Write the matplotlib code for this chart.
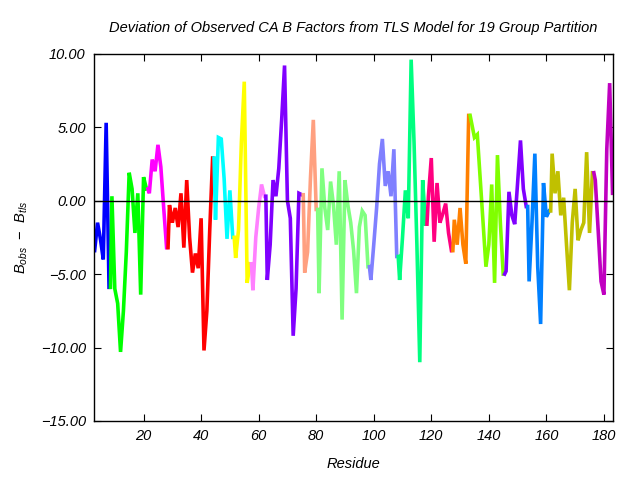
import numpy as np
import matplotlib
matplotlib.use('Agg')
import matplotlib.pyplot as plt

plt.rcParams['font.family'] = ['Liberation Sans', 'DejaVu Sans']
plt.rcParams['mathtext.fontset'] = 'custom'
plt.rcParams['mathtext.it'] = 'Liberation Sans:italic'
plt.rcParams['mathtext.rm'] = 'Liberation Sans'

# 每个分组：起始残基号 + 偏差值
group_starts = [3, 9, 22, 29, 45, 52, 58, 63, 76, 81, 99, 109, 119, 128, 134, 146, 154, 162, 177]
group_values = [
    [-3.4, -1.5, -2.6, -4.0, 5.3, -5.9],
    [0.3, -6.0, -7.0, -10.3, -7.5, -3.5, 1.9, 0.8, -2.2, 0.5, -6.4, 1.6, 0.8],
    [0.5, 2.8, 2.0, 3.8, 2.3, -0.5, -3.2],
    [-0.3, -1.5, -0.5, -1.8, 0.5, -3.2, 1.4, -2.5, -4.9, -3.6, -4.6, -1.2, -10.2, -7.5, -2.0, 2.9],
    [-1.3, 4.3, 4.2, 1.5, -2.6, 0.7, -2.5],
    [-3.9, -2.0, 4.0, 8.1, -5.6, -4.3],
    [-6.1, -2.5, -0.5, 1.1, 0.3],
    [-5.4, -3.0, 1.4, 0.3, 2.2, 5.5, 9.2, 0.0, -1.2, -9.2, -6.0, 0.5, 0.4],
    [-4.9, -3.5, 1.5, 5.5, -0.6],
    [-6.3, 2.2, -0.5, -2.0, 1.3, -0.3, -3.0, 2.0, -8.1, 1.4, -0.3, -1.5, -3.4, -6.3, -1.8, -0.7, -1.0, -4.5],
    [-5.4, -3.0, -0.5, 2.5, 4.2, 1.0, 2.0, 0.3, 3.5, -3.8],
    [-5.4, -2.5, 0.7, -1.2, 9.6, 4.0, -3.0, -11.0, 1.4, -1.6],
    [0.3, 2.9, -2.8, 1.2, -1.5, -0.9, -0.2, -2.2, -3.4],
    [-1.3, -3.0, -0.5, -3.0, -4.3, 5.8],
    [5.3, 4.3, 4.5, 1.5, -1.5, -4.5, -3.0, 1.1, -5.6, 3.1, -1.5, -5.0],
    [-4.8, 0.6, -1.0, -1.6, 1.2, 4.1, 0.8, -0.4],
    [-5.5, -1.5, 3.2, -4.5, -8.4, 1.2, -1.1, -0.7],
    [3.2, 0.5, 2.0, -1.0, 0.2, -3.0, -6.1, -1.5, 0.8, -2.7, -2.0, -1.5, 3.3, -2.2, 1.9],
    [1.4, -2.0, -5.5, -6.4, 3.5, 8.0, 0.5],
]
group_colors = ['#0000ff', '#00ff00', '#ff00ff', '#ff0000', '#00ffff', '#ffff00', '#ff80ff',
                '#8000ff', '#ffa080', '#80ff80', '#8080ff', '#00ff80', '#ff0080', '#ff8000',
                '#80ff00', '#8000ff', '#0080ff', '#c0c000', '#c000c0']

xticks = [20, 40, 60, 80, 100, 120, 140, 160, 180]
yticks = [-15, -10, -5, 0, 5, 10]

fig = plt.figure(figsize=(6.4, 4.8), dpi=100)
ax = fig.add_axes([0.147, 0.123, 0.811, 0.765])

prev = None
for start, vals, col in zip(group_starts, group_values, group_colors):
    x = list(range(start, start + len(vals)))
    y = list(vals)
    # 接上前一组的最后一个点，保证曲线连续
    if prev is not None:
        x = [prev[0] + 0.5] + x
        y = [prev[1]] + y
    ax.plot(x, y, color=col, linewidth=2.6, solid_joinstyle='miter')
    prev = (start + len(vals) - 1, vals[-1])

ax.axhline(0, color='black', linewidth=1.0)

ax.set_xlim(2.8, 183.2)
ax.set_ylim(-15, 10)
ax.set_xticks(xticks)
ax.set_yticks(yticks)
ax.set_xticklabels([str(t) for t in xticks], fontstyle='italic', fontsize=10.5)
ax.set_yticklabels([('%.2f' % t).replace('-', '\u2212') for t in yticks],
                   fontstyle='italic', fontsize=10.5)
ax.tick_params(direction='in', length=5, width=0.8, top=True, right=True, pad=6)
for s in ax.spines.values():
    s.set_linewidth(1.0)

ax.set_title('Deviation of Observed CA B Factors from TLS Model for 19 Group Partition',
             fontstyle='italic', fontsize=10.5, pad=16)
ax.set_xlabel('Residue', fontstyle='italic', fontsize=10.5, labelpad=10)
ax.set_ylabel(r'$B_{obs}$  $-$  $B_{tls}$', fontsize=10.5, labelpad=8)

fig.savefig('out.png', dpi=100)
